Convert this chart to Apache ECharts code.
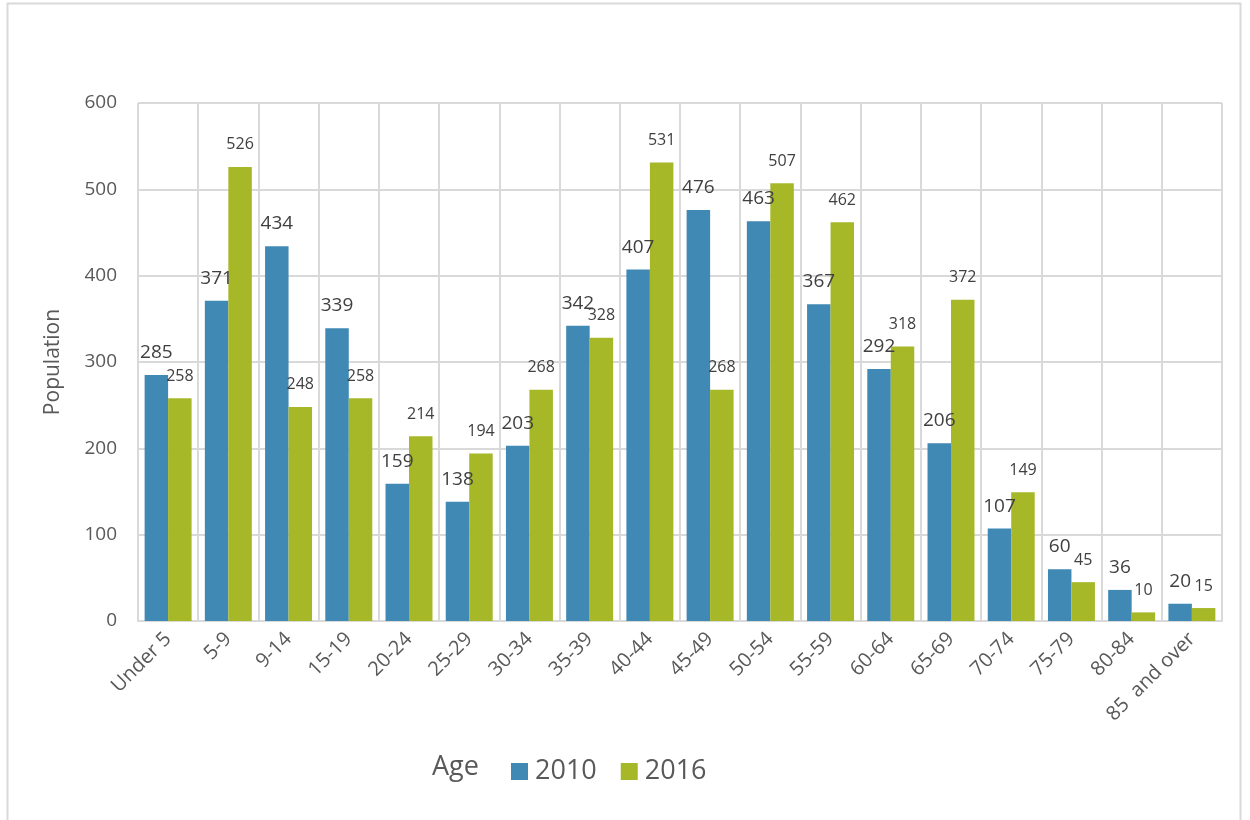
<!DOCTYPE html>
<html>
<head>
<meta charset="utf-8">
<script src="https://cdn.jsdelivr.net/npm/echarts@6/dist/echarts.min.js"></script>
<style>
  html, body { margin: 0; padding: 0; background: #fff; }
  #chart { width: 1250px; height: 820px; }
</style>
</head>
<body>
<div id="chart"></div>
<script>
// Age groups and population values
const ageGroups = ['Under 5', '5-9', '9-14', '15-19', '20-24', '25-29', '30-34', '35-39', '40-44',
  '45-49', '50-54', '55-59', '60-64', '65-69', '70-74', '75-79', '80-84', '85  and over'];
const pop2010 = [285, 371, 434, 339, 159, 138, 203, 342, 407, 476, 463, 367, 292, 206, 107, 60, 36, 20];
const pop2016 = [258, 526, 248, 258, 214, 194, 268, 328, 531, 268, 507, 462, 318, 372, 149, 45, 10, 15];
const yTicks = [0, 100, 200, 300, 400, 500, 600];

const gridColor = '#d9d9d9';
const textColor = '#595959';
const font = '"Open Sans", "Noto Sans", sans-serif';

const chart = echarts.init(document.getElementById('chart'));

const option = {
  animation: false,
  textStyle: { fontFamily: font },
  grid: { left: 138, right: 28, top: 103, bottom: 199, containLabel: false },
  legend: {
    data: ['2010', '2016'],
    left: 506,
    top: 753,
    itemWidth: 17,
    itemHeight: 17,
    itemGap: 24,
    icon: 'rect',
    textStyle: { fontSize: 27, color: textColor, fontFamily: font, padding: [0, 0, 0, 2] }
  },
  graphic: [
    {
      type: 'rect',
      shape: { x: 7.5, y: 3.5, width: 1233, height: 830 },
      style: { fill: 'none', stroke: gridColor, lineWidth: 2 },
      silent: true
    },
    {
      type: 'text',
      left: 432,
      top: 754,
      style: { text: 'Age', fontSize: 27, fill: textColor, fontFamily: font }
    }
  ],
  xAxis: {
    type: 'category',
    data: ageGroups,
    axisLine: { lineStyle: { color: gridColor, width: 2 } },
    axisTick: { show: false },
    splitLine: { show: true, interval: 0, lineStyle: { color: gridColor, width: 2 } },
    axisLabel: {
      interval: 0,
      rotate: 45,
      fontSize: 20,
      color: textColor,
      margin: 15
    }
  },
  yAxis: {
    type: 'value',
    min: yTicks[0],
    max: yTicks[yTicks.length - 1],
    interval: 100,
    name: 'Population',
    nameLocation: 'middle',
    nameGap: 74,
    nameRotate: 90,
    nameTextStyle: { fontSize: 21, color: textColor },
    axisLine: { show: false },
    axisTick: { show: false },
    splitLine: { lineStyle: { color: gridColor, width: 2 } },
    axisLabel: { fontSize: 19, color: textColor, margin: 21 }
  },
  series: [
    {
      name: '2010',
      type: 'bar',
      data: pop2010,
      barGap: '0%',
      barCategoryGap: '22%',
      itemStyle: { color: '#3f89b4' },
      label: {
        show: true,
        position: 'top',
        distance: 13,
        fontSize: 19,
        color: '#404040'
      }
    },
    {
      name: '2016',
      type: 'bar',
      data: pop2016,
      itemStyle: { color: '#a6b828' },
      label: {
        show: true,
        position: 'top',
        distance: 14,
        fontSize: 16,
        color: '#404040'
      }
    }
  ]
};

chart.setOption(option);
</script>
</body>
</html>
